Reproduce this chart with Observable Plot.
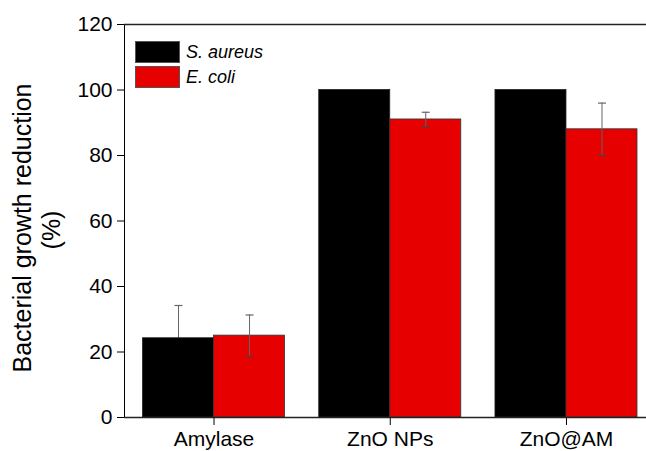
<!DOCTYPE html>
<html>
<head>
<meta charset="utf-8">
<script src="https://cdn.jsdelivr.net/npm/d3@7"></script>
<script src="https://cdn.jsdelivr.net/npm/@observablehq/plot@0.6"></script>
<style>
  html, body { margin: 0; padding: 0; background: #fff; overflow: hidden; }
  #wrap { position: relative; width: 646px; height: 451px; font-family: "Liberation Sans", Arial, sans-serif; }
  #legend { position: absolute; left: 135px; top: 41px; }
  .row { display: flex; align-items: center; height: 22px; margin-bottom: 3px; }
  .sw { width: 43px; height: 20px; border: 1px solid #555; }
  .lab { margin-left: 6px; font-style: italic; font-size: 18px; color: #000; }
</style>
</head>
<body>
<div id="wrap"></div>
<script>
const categories = ["Amylase", "ZnO NPs", "ZnO@AM"];
const seriesNames = ["S. aureus", "E. coli"];
const seriesColors = ["#000000", "#e60000"];
const sAureus = [24.2, 100, 100];
const sAureusErr = [10, 0, 0];
const eColi = [25, 91, 88];
const eColiErr = [6.3, 2.2, 8];
const yTicks = [0, 20, 40, 60, 80, 100, 120];
const yLabel1 = "Bacterial growth reduction";
const yLabel2 = "(%)";

const rowsA = categories.map((c, i) => ({cat: c, v: sAureus[i], e: sAureusErr[i]}));
const rowsE = categories.map((c, i) => ({cat: c, v: eColi[i], e: eColiErr[i]}));

const W = 646, H = 451, mL = 124, mT = 24, mB = 34;
const xRange = [mL, 655.5], pIn = 0.194, pOut = 0.105;
const bw = d3.scaleBand().domain(categories).range(xRange).paddingInner(pIn).paddingOuter(pOut).bandwidth();
const q = bw / 4;
const capSymbol = {draw(ctx) { ctx.moveTo(-4, 0); ctx.lineTo(4, 0); }};
const errColor = "#666";

const plot = Plot.plot({
  width: W, height: H,
  marginLeft: mL, marginRight: 0, marginTop: mT, marginBottom: mB,
  style: {fontFamily: "'Liberation Sans', Arial, sans-serif", fontSize: "21px", color: "#000", background: "#fff", overflow: "visible"},
  x: {domain: categories, range: xRange, paddingInner: pIn, paddingOuter: pOut, round: false, tickSize: 8, tickPadding: 6, label: null},
  y: {domain: [0, 120], ticks: yTicks, tickSize: 7, tickPadding: 5, line: true, label: null},
  marks: [
    Plot.ruleX(rowsA.filter(d => d.e > 0), {x: "cat", y1: "v", y2: d => d.v + d.e, dx: -q, stroke: errColor, strokeWidth: 1}),
    Plot.dot(rowsA.filter(d => d.e > 0), {x: "cat", y: d => d.v + d.e, dx: -q, symbol: capSymbol, r: 4, stroke: errColor, strokeWidth: 1.2}),
    Plot.barY(rowsA, {x: "cat", y: "v", fill: seriesColors[0], stroke: "#222", strokeWidth: 0.8, insetLeft: 0, insetRight: bw / 2}),
    Plot.barY(rowsE, {x: "cat", y: "v", fill: seriesColors[1], stroke: "#333", strokeWidth: 0.8, insetLeft: bw / 2, insetRight: 0}),
    Plot.ruleX(rowsE.filter(d => d.e > 0), {x: "cat", y1: d => d.v - d.e, y2: d => d.v + d.e, dx: q, stroke: errColor, strokeWidth: 1}),
    Plot.dot(rowsE.filter(d => d.e > 0), {x: "cat", y: d => d.v + d.e, dx: q, symbol: capSymbol, r: 4, stroke: errColor, strokeWidth: 1.2}),
    Plot.dot(rowsE.filter(d => d.e > 0), {x: "cat", y: d => d.v - d.e, dx: q, symbol: capSymbol, r: 4, stroke: "#444", strokeWidth: 1.2}),
    Plot.ruleY([0], {stroke: "#222", strokeWidth: 1.5}),
    Plot.ruleY([120], {stroke: "#222", strokeWidth: 1.5}),
    Plot.text([yLabel1], {text: d => d, frameAnchor: "left", textAnchor: "middle", rotate: -90, dx: -102, dy: 7, fontSize: 25, fill: "#000"}),
    Plot.text([yLabel2], {text: d => d, frameAnchor: "left", textAnchor: "middle", rotate: -90, dx: -73, dy: 9, fontSize: 25, fill: "#000"})
  ]
});

const wrap = document.getElementById("wrap");
wrap.appendChild(plot);

const legend = document.createElement("div");
legend.id = "legend";
seriesNames.forEach((name, i) => {
  const row = document.createElement("div");
  row.className = "row";
  const sw = document.createElement("div");
  sw.className = "sw";
  sw.style.background = seriesColors[i];
  const lab = document.createElement("span");
  lab.className = "lab";
  lab.textContent = name;
  row.appendChild(sw);
  row.appendChild(lab);
  legend.appendChild(row);
});
wrap.appendChild(legend);
</script>
</body>
</html>
